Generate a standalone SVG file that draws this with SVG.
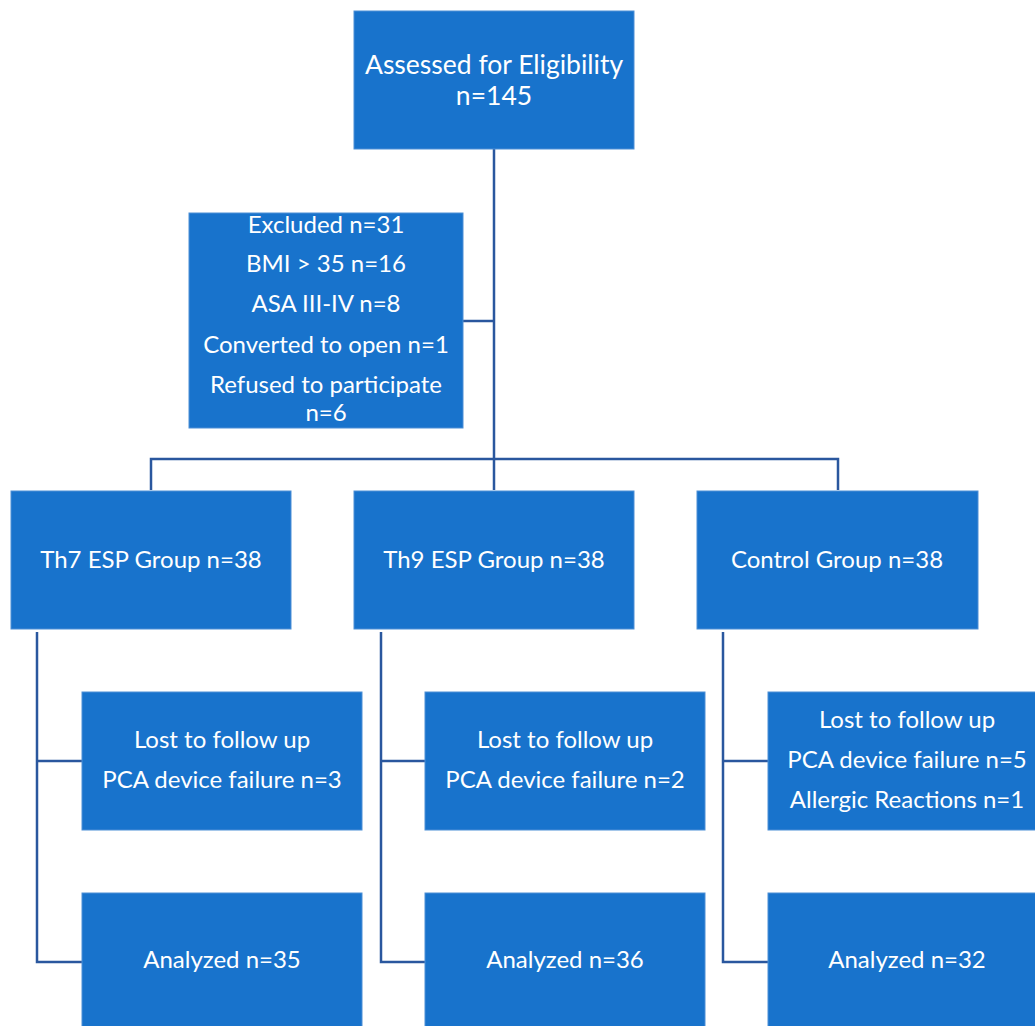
<svg xmlns="http://www.w3.org/2000/svg" width="1035" height="1026" viewBox="0 0 1035 1026">
<style>
.box{fill:#1873CC;stroke:#4D8FD6;stroke-width:1}
.t{fill:#fff;font-family:Lato,"Open Sans",sans-serif;font-size:24px;text-anchor:middle}
.big{font-size:26.5px}
.c{fill:none;stroke:#2A579E;stroke-width:2.5}
</style>
<rect width="1035" height="1026" fill="#fff"/>
<g id="connectors">
<path class="c" d="M494 149V459M463 321H494M151 490V459H838V490M494 459V490"/>
<path class="c" d="M37 632V962H82M37 761H82"/>
<path class="c" d="M381 632V962H425M381 761H425"/>
<path class="c" d="M723 632V962H768M723 761H768"/>
</g>
<g id="assessed"><rect class="box" x="354" y="11" width="280" height="138"/>
<text class="t big" x="494" y="74">Assessed for Eligibility</text><text class="t big" x="494" y="105">n=145</text></g>
<g id="excluded"><rect class="box" x="189" y="213" width="274" height="215"/>
<text class="t" x="326" y="233">Excluded n=31</text>
<text class="t" x="326" y="272">BMI &gt; 35 n=16</text>
<text class="t" x="326" y="312">ASA III-IV n=8</text>
<text class="t" x="326" y="353">Converted to open n=1</text>
<text class="t" x="326" y="393">Refused to participate</text>
<text class="t" x="326" y="421">n=6</text></g>
<g id="th7"><rect class="box" x="11" y="491" width="280" height="138"/><text class="t" x="151" y="568">Th7 ESP Group n=38</text></g>
<g id="th9"><rect class="box" x="354" y="491" width="280" height="138"/><text class="t" x="494" y="568">Th9 ESP Group n=38</text></g>
<g id="control"><rect class="box" x="697" y="491" width="281" height="138"/><text class="t" x="837" y="568">Control Group n=38</text></g>
<g id="lost7"><rect class="box" x="82" y="692" width="280" height="138"/><text class="t" x="222" y="748">Lost to follow up</text><text class="t" x="222" y="788">PCA device failure n=3</text></g>
<g id="lost9"><rect class="box" x="425" y="692" width="280" height="138"/><text class="t" x="565" y="748">Lost to follow up</text><text class="t" x="565" y="788">PCA device failure n=2</text></g>
<g id="lostc"><rect class="box" x="768" y="692" width="280" height="138"/><text class="t" x="907" y="728">Lost to follow up</text><text class="t" x="907" y="768">PCA device failure n=5</text><text class="t" x="907" y="808">Allergic Reactions n=1</text></g>
<g id="an7"><rect class="box" x="82" y="893" width="280" height="140"/><text class="t" x="222" y="968">Analyzed n=35</text></g>
<g id="an9"><rect class="box" x="425" y="893" width="280" height="140"/><text class="t" x="565" y="968">Analyzed n=36</text></g>
<g id="anc"><rect class="box" x="768" y="893" width="280" height="140"/><text class="t" x="907" y="968">Analyzed n=32</text></g>
</svg>
